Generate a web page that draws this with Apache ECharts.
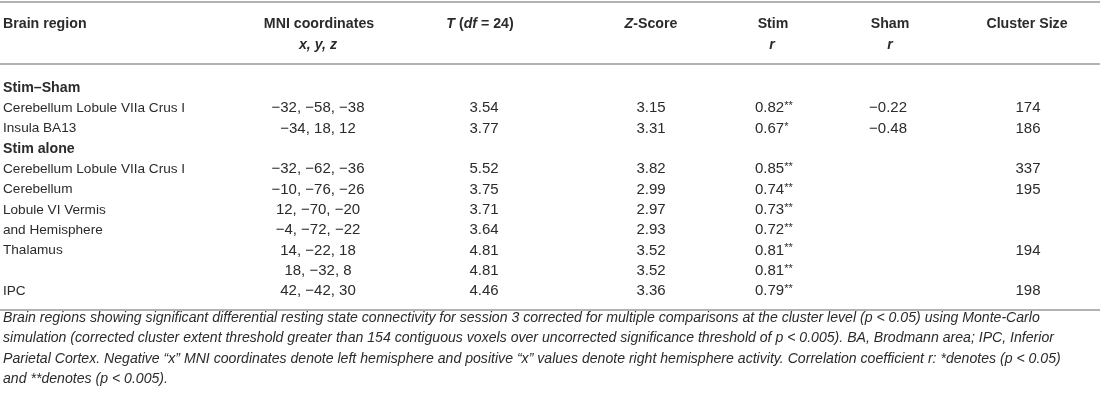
<!DOCTYPE html>
<html lang="en">
<head>
    <meta charset="utf-8">
    <title>Brain regions table</title>
    <script src="https://cdn.jsdelivr.net/npm/echarts@6/dist/echarts.min.js"></script>
    <style>
        html, body { margin: 0; padding: 0; background: #fff; }
    </style>
</head>
<body>

<div id="main" style="width: 1100px;height:405px;"></div>

<script>
    // table data, one entry per row
    var regions = ['Stim–Sham', 'Cerebellum Lobule VIIa Crus I', 'Insula BA13', 'Stim alone',
        'Cerebellum Lobule VIIa Crus I', 'Cerebellum', 'Lobule VI Vermis', 'and Hemisphere',
        'Thalamus', '', 'IPC'];
    var sectionRows = [0, 3]; // rows shown in bold
    var mniCoords = ['', '−32, −58, −38', '−34, 18, 12', '', '−32, −62, −36', '−10, −76, −26',
        '12, −70, −20', '−4, −72, −22', '14, −22, 18', '18, −32, 8', '42, −42, 30'];
    var tValues = [null, 3.54, 3.77, null, 5.52, 3.75, 3.71, 3.64, 4.81, 4.81, 4.46];
    var zScores = [null, 3.15, 3.31, null, 3.82, 2.99, 2.97, 2.93, 3.52, 3.52, 3.36];
    var stimR = [null, 0.82, 0.67, null, 0.85, 0.74, 0.73, 0.72, 0.81, 0.81, 0.79];
    var stimSig = ['', '**', '*', '', '**', '**', '**', '**', '**', '**', '**'];
    var shamR = [null, -0.22, -0.48, null, null, null, null, null, null, null, null];
    var clusterSize = [null, 174, 186, null, 337, 195, null, null, 194, null, 198];

    var captionLines = [
        'Brain regions showing significant differential resting state connectivity for session 3 corrected for multiple comparisons at the cluster level (p < 0.05) using Monte-Carlo',
        'simulation (corrected cluster extent threshold greater than 154 contiguous voxels over uncorrected significance threshold of p < 0.005). BA, Brodmann area; IPC, Inferior',
        'Parietal Cortex. Negative “x” MNI coordinates denote left hemisphere and positive “x” values denote right hemisphere activity. Correlation coefficient r: *denotes (p < 0.05)',
        'and **denotes (p < 0.005).'
    ];

    var FONT = '"Liberation Sans", Arial, Helvetica, sans-serif';
    var TEXT_COLOR = '#2b2b2b';
    var RULE_COLOR = '#9a9a9a';

    // column anchors on the x axis (0..1100), alignment and font size
    var columns = [
        {x: 3, align: 'left', size: 13.6},
        {x: 318, align: 'center', size: 15},
        {x: 484, align: 'center', size: 15},
        {x: 651, align: 'center', size: 15},
        {x: 755, align: 'left', size: 15},
        {x: 888, align: 'center', size: 15},
        {x: 1028, align: 'center', size: 15}
    ];

    function num(v) {
        if (v === null) return '';
        var s = Math.abs(v).toFixed(2);
        return v < 0 ? '−' + s : s;
    }

    function cellText(col, i) {
        switch (col) {
            case 0: return sectionRows.indexOf(i) >= 0 ? '{b|' + regions[i] + '}' : regions[i];
            case 1: return mniCoords[i];
            case 2: return num(tValues[i]);
            case 3: return num(zScores[i]);
            case 4: return stimR[i] === null ? '' : num(stimR[i]) + '{s|' + stimSig[i] + '}';
            case 5: return num(shamR[i]);
            case 6: return clusterSize[i] === null ? '' : String(clusterSize[i]);
        }
        return '';
    }

    var rich = {
        b: {fontFamily: FONT, fontSize: 14.2, fontWeight: 'bold', fill: TEXT_COLOR, color: TEXT_COLOR},
        s: {fontFamily: FONT, fontSize: 11, fill: TEXT_COLOR, color: TEXT_COLOR, padding: [0, 0, 4, 0]},
        bi: {fontFamily: FONT, fontSize: 14.2, fontWeight: 'bold', fontStyle: 'italic', fill: TEXT_COLOR, color: TEXT_COLOR}
    };

    var series = columns.map(function (c, col) {
        return {
            type: 'custom',
            coordinateSystem: 'cartesian2d',
            silent: true,
            data: regions.map(function (r, i) { return [c.x, i]; }),
            renderItem: function (params, api) {
                var i = params.dataIndex;
                var p = api.coord([api.value(0), i]);
                return {
                    type: 'text',
                    x: p[0],
                    y: p[1],
                    style: {
                        text: cellText(col, i),
                        align: c.align,
                        verticalAlign: 'middle',
                        fontFamily: FONT,
                        fontSize: c.size,
                        fill: TEXT_COLOR,
                        rich: rich
                    }
                };
            }
        };
    });

    function headerText(text, x, y, align) {
        return {
            type: 'text', x: x, y: y, silent: true,
            style: {
                text: text, align: align, verticalAlign: 'middle',
                fontFamily: FONT, fontSize: 14.2, fontWeight: 'bold', fill: TEXT_COLOR, rich: rich
            }
        };
    }

    function rule(y) {
        return {
            type: 'line', silent: true,
            shape: {x1: 0, y1: y, x2: 1100, y2: y},
            style: {stroke: RULE_COLOR, lineWidth: 1.5}
        };
    }

    var graphics = [
        rule(2), rule(64), rule(310),
        headerText('Brain region', 3, 24, 'left'),
        headerText('MNI coordinates', 319, 24, 'center'),
        headerText('{bi|x, y, z}', 318, 45, 'center'),
        headerText('{bi|T} ({bi|df} = 24)', 480, 24, 'center'),
        headerText('{bi|Z}-Score', 651, 24, 'center'),
        headerText('Stim', 773, 24, 'center'),
        headerText('{bi|r}', 772, 45, 'center'),
        headerText('Sham', 890, 24, 'center'),
        headerText('{bi|r}', 890, 45, 'center'),
        headerText('Cluster Size', 1027, 24, 'center')
    ];
    captionLines.forEach(function (line, k) {
        graphics.push({
            type: 'text', x: 3, y: 318 + k * 20.3, silent: true,
            style: {
                text: line, align: 'left', verticalAlign: 'middle',
                fontFamily: FONT, fontSize: 14.1, fontStyle: 'italic', fill: TEXT_COLOR
            }
        });
    });

    var myChart = echarts.init(document.getElementById('main'));

    var option = {
        animation: false,
        grid: {left: 0, right: 0, top: 77.85, bottom: 103.85},
        xAxis: {type: 'value', min: 0, max: 1100, show: false},
        yAxis: {
            type: 'category', inverse: true, show: false,
            data: regions.map(function (r, i) { return String(i); })
        },
        graphic: graphics,
        series: series
    };

    myChart.setOption(option);
</script>
</body>
</html>
